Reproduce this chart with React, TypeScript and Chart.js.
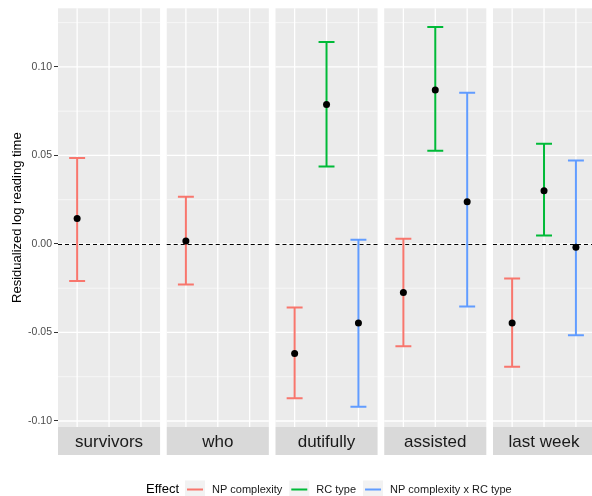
import React, { useEffect, useRef } from "react";
import { Chart, registerables } from "chart.js";

Chart.register(...registerables);

const panelNames = ["survivors", "who", "dutifully", "assisted", "last week"];
const effectNames = ["NP complexity", "RC type", "NP complexity x RC type"];
const effectColors = ["#F8766D", "#00BA38", "#619CFF"];

const npMean = [0.0143, 0.0017, -0.0619, -0.0274, -0.0447];
const npLower = [-0.021, -0.0229, -0.0871, -0.0578, -0.0693];
const npUpper = [0.0486, 0.0266, -0.0359, 0.003, -0.0195];

const rcMean = [null, null, 0.0788, 0.087, 0.03];
const rcLower = [null, null, 0.0437, 0.0527, 0.0048];
const rcUpper = [null, null, 0.1141, 0.1225, 0.0566];

const ixMean = [null, null, -0.0447, 0.0238, -0.0019];
const ixLower = [null, null, -0.092, -0.0353, -0.0516];
const ixUpper = [null, null, 0.0024, 0.0854, 0.0471];

const yTickValues = [-0.1, -0.05, 0, 0.05, 0.1];
const yMinorValues = [-0.075, -0.025, 0.025, 0.075, 0.125];

const yTitle = "Residualized log reading time";
const legendTitle = "Effect";

const PANEL_W = 3.2;
const PANEL_STEP = 3.409;
const X_MAX = 16.74;
const Y_MIN = -0.1034;
const Y_MAX = 0.1331;
const FONT = "'Liberation Sans', Arial, sans-serif";

const series = [
  { mean: npMean, lower: npLower, upper: npUpper },
  { mean: rcMean, lower: rcLower, upper: rcUpper },
  { mean: ixMean, lower: ixLower, upper: ixUpper },
];

function buildPoints(e: number) {
  const s = series[e];
  const pts: any[] = [];
  s.mean.forEach((m: number | null, p: number) => {
    if (m === null) return;
    pts.push({ x: p * PANEL_STEP + 0.6 + e, y: m, lo: s.lower[p], hi: s.upper[p] });
  });
  return pts;
}

const facetPlugin = {
  id: "facets",
  beforeDatasetsDraw(chart: any) {
    const { ctx, chartArea, scales } = chart;
    const x = scales.x;
    const y = scales.y;
    const edge = chart.width;
    ctx.save();
    for (let p = 0; p < panelNames.length; p++) {
      const left = x.getPixelForValue(p * PANEL_STEP);
      const right = Math.min(x.getPixelForValue(p * PANEL_STEP + PANEL_W), edge);
      ctx.fillStyle = "#EBEBEB";
      ctx.fillRect(left, chartArea.top, right - left, chartArea.bottom - chartArea.top);
      ctx.strokeStyle = "#FFFFFF";
      ctx.lineWidth = 0.6;
      yMinorValues.forEach((v) => {
        const py = y.getPixelForValue(v);
        if (py < chartArea.top || py > chartArea.bottom) return;
        ctx.beginPath();
        ctx.moveTo(left, py);
        ctx.lineTo(right, py);
        ctx.stroke();
      });
      ctx.lineWidth = 1.3;
      yTickValues.forEach((v) => {
        const py = y.getPixelForValue(v);
        ctx.beginPath();
        ctx.moveTo(left, py);
        ctx.lineTo(right, py);
        ctx.stroke();
      });
      for (let c = 0; c < effectNames.length; c++) {
        const px = x.getPixelForValue(p * PANEL_STEP + 0.6 + c);
        if (px > right) continue;
        ctx.beginPath();
        ctx.moveTo(px, chartArea.top);
        ctx.lineTo(px, chartArea.bottom);
        ctx.stroke();
      }
      // dashed zero line
      const pz = Math.round(y.getPixelForValue(0)) + 0.5;
      ctx.strokeStyle = "#000000";
      ctx.lineWidth = 1;
      ctx.setLineDash([4, 3]);
      ctx.beginPath();
      ctx.moveTo(left, pz);
      ctx.lineTo(right, pz);
      ctx.stroke();
      ctx.setLineDash([]);
    }
    // error bars
    chart.data.datasets.forEach((ds: any, e: number) => {
      ctx.strokeStyle = effectColors[e];
      ctx.lineWidth = 2;
      ds.data.forEach((pt: any) => {
        const px = x.getPixelForValue(pt.x);
        const cl = x.getPixelForValue(pt.x - 0.25);
        const cr = x.getPixelForValue(pt.x + 0.25);
        const plo = y.getPixelForValue(pt.lo);
        const phi = y.getPixelForValue(pt.hi);
        ctx.beginPath();
        ctx.moveTo(px, plo);
        ctx.lineTo(px, phi);
        ctx.moveTo(cl, plo);
        ctx.lineTo(cr, plo);
        ctx.moveTo(cl, phi);
        ctx.lineTo(cr, phi);
        ctx.stroke();
      });
    });
    ctx.restore();
  },
  afterDraw(chart: any) {
    const { ctx, chartArea, scales } = chart;
    const x = scales.x;
    const edge = chart.width;
    ctx.save();
    // strips
    const stripTop = chartArea.bottom;
    const stripH = 28;
    for (let p = 0; p < panelNames.length; p++) {
      const left = x.getPixelForValue(p * PANEL_STEP);
      const fullRight = x.getPixelForValue(p * PANEL_STEP + PANEL_W);
      const right = Math.min(fullRight, edge);
      ctx.fillStyle = "#D9D9D9";
      ctx.fillRect(left, stripTop, right - left, stripH);
      ctx.fillStyle = "#1A1A1A";
      ctx.font = `17px ${FONT}`;
      ctx.textAlign = "center";
      ctx.textBaseline = "middle";
      ctx.fillText(panelNames[p], (left + fullRight) / 2, stripTop + stripH / 2 + 1);
    }
    // legend
    const ly = 489.5;
    ctx.textBaseline = "middle";
    ctx.textAlign = "left";
    ctx.fillStyle = "#000000";
    ctx.font = `13px ${FONT}`;
    ctx.fillText(legendTitle, 146, ly);
    let lx = 185;
    ctx.font = `11px ${FONT}`;
    effectNames.forEach((name, e) => {
      ctx.fillStyle = "#F2F2F2";
      ctx.fillRect(lx, ly - 9, 20, 20);
      ctx.strokeStyle = effectColors[e];
      ctx.lineWidth = 2;
      ctx.beginPath();
      ctx.moveTo(lx + 2, ly);
      ctx.lineTo(lx + 18, ly);
      ctx.stroke();
      ctx.fillStyle = "#1A1A1A";
      ctx.fillText(name, lx + 27, ly);
      lx += 27 + ctx.measureText(name).width + 7;
    });
    ctx.restore();
  },
};

export default function App() {
  const ref = useRef<HTMLCanvasElement | null>(null);
  useEffect(() => {
    if (!ref.current) return;
    Chart.defaults.font.family = FONT;
    const chart = new Chart(ref.current, {
      type: "scatter",
      data: {
        datasets: effectNames.map((name, e) => ({
          label: name,
          data: buildPoints(e),
          backgroundColor: "#000000",
          borderColor: "#000000",
          pointRadius: 3.5,
          pointBorderWidth: 0,
          pointHoverRadius: 3.5,
        })),
      },
      options: {
        animation: false,
        responsive: false,
        devicePixelRatio: 1,
        events: [],
        layout: { autoPadding: false, padding: { top: 7, bottom: 69, left: 0, right: 0 } },
        plugins: {
          legend: { display: false },
          tooltip: { enabled: false },
        },
        scales: {
          x: {
            type: "linear",
            display: false,
            min: 0,
            max: X_MAX,
          },
          y: {
            type: "linear",
            min: Y_MIN,
            max: Y_MAX,
            afterBuildTicks: (scale: any) => {
              scale.ticks = yTickValues.map((v) => ({ value: v }));
            },
            afterFit: (scale: any) => {
              scale.width = 58;
            },
            border: { display: false },
            grid: {
              drawOnChartArea: false,
              drawTicks: true,
              tickLength: 4,
              color: "#333333",
              lineWidth: 1,
            },
            ticks: {
              padding: 2,
              color: "#4D4D4D",
              font: { size: 10.5, family: FONT },
              callback: (v: any) => Number(v).toFixed(2),
            },
            title: {
              display: true,
              text: yTitle,
              color: "#000000",
              font: { size: 13, family: FONT },
              padding: { top: 10, bottom: 0 },
            },
          },
        },
      },
      plugins: [facetPlugin],
    } as any);
    return () => chart.destroy();
  }, []);
  return (
    <div style={{ position: "absolute", left: 0, top: 0, width: 592, height: 496, overflow: "hidden", background: "#FFFFFF" }}>
      <canvas ref={ref} width={592} height={496} style={{ width: 592, height: 496, display: "block" }} />
    </div>
  );
}
